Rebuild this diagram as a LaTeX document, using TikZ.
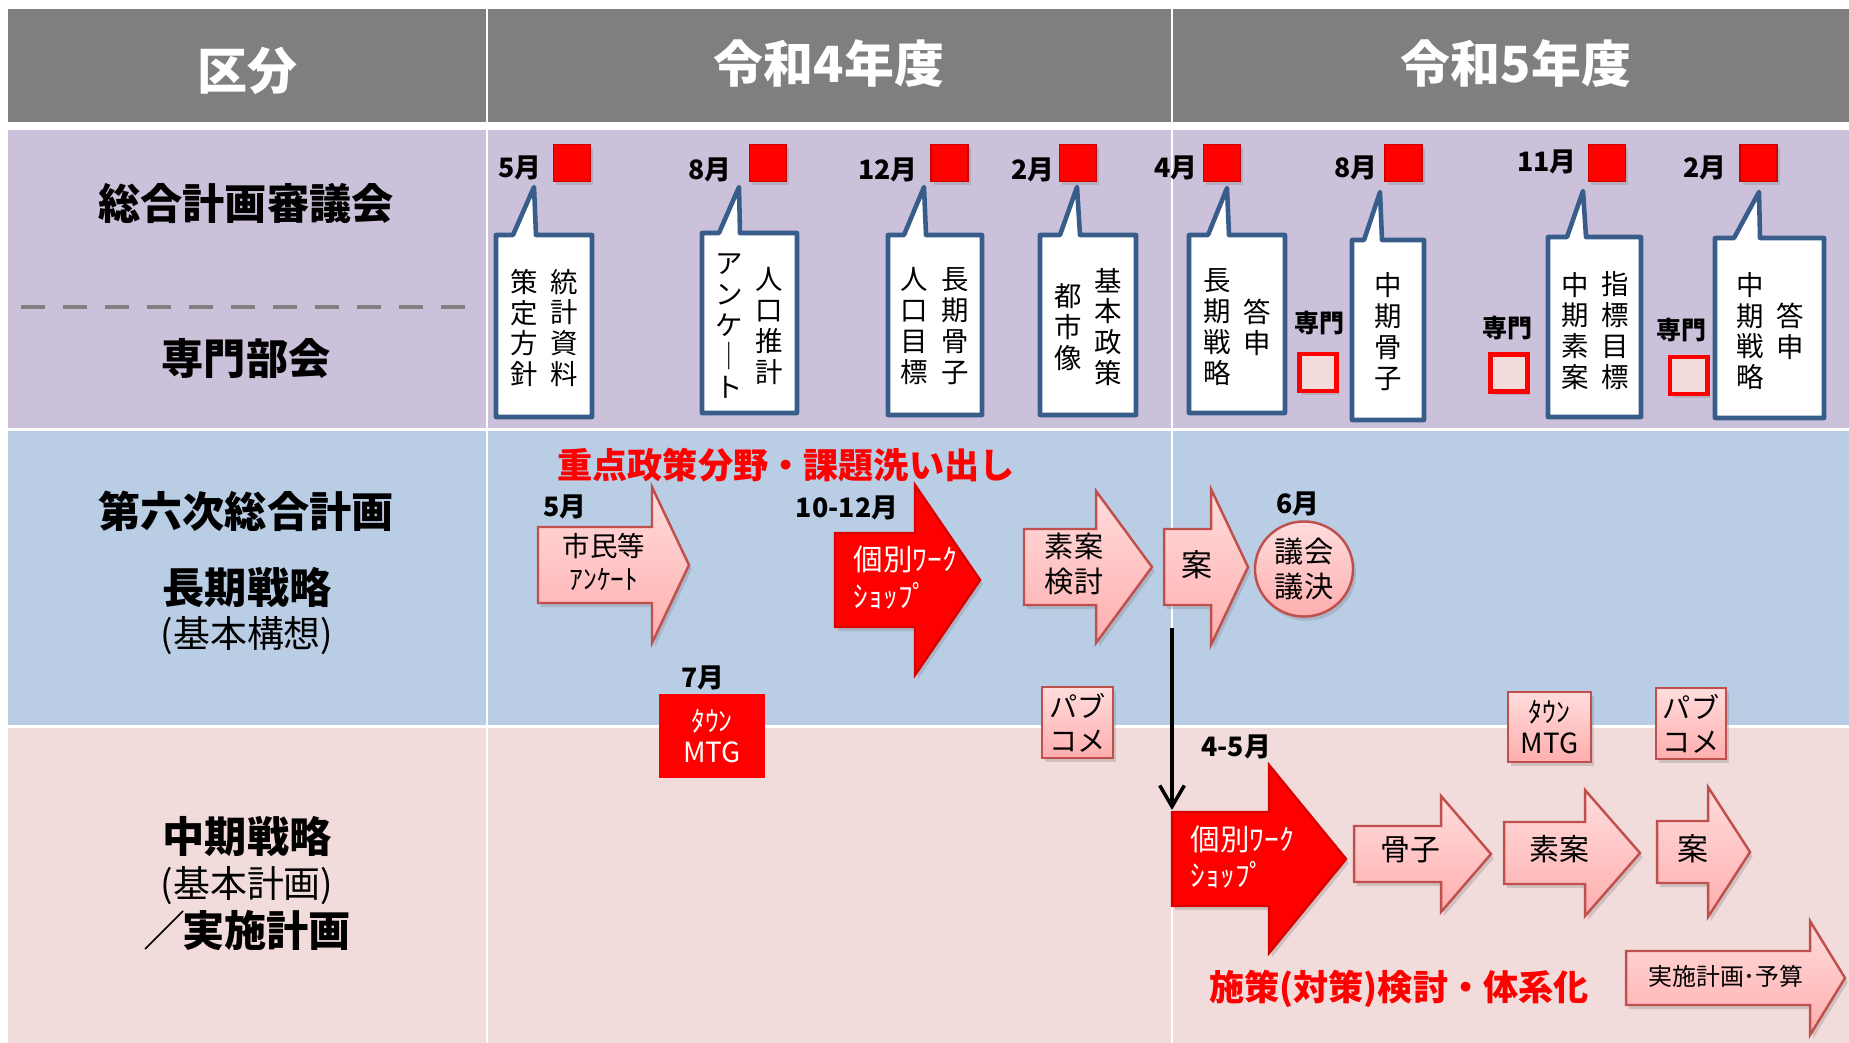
\documentclass[tikz,border=0pt]{standalone}
\usepackage{fontspec}
\setmainfont{Noto Sans CJK JP}
\usetikzlibrary{arrows.meta,shadows,shapes.geometric}

\definecolor{hdrgray}{RGB}{127,127,127}
\definecolor{rowpurple}{RGB}{204,193,218}
\definecolor{rowblue}{RGB}{185,205,229}
\definecolor{rowpink}{RGB}{242,220,219}
\definecolor{callblue}{RGB}{56,93,138}
\definecolor{pinktop}{RGB}{255,220,220}
\definecolor{pinkbot}{RGB}{255,174,174}
\definecolor{pinkedge}{RGB}{192,80,77}
\definecolor{dashgray}{RGB}{128,128,128}

% block arrow: [style] left, neck, tip, centre y, half body, half head
\newcommand{\blockarrow}[7][]{%
  \path[#1] (#2,#5-#6) -- (#3,#5-#6) -- (#3,#5-#7) -- (#4,#5) -- (#3,#5+#7) -- (#3,#5+#6) -- (#2,#5+#6) -- cycle;}

% callout: left, right, top, bottom, base left, base right, tip x, tip y
\newcommand{\callout}[8]{%
  \path[callbox] (#1,#3) -- (#5,#3) -- (#7,#8) -- (#6,#3) -- (#2,#3) -- (#2,#4) -- (#1,#4) -- cycle;}

\begin{document}
\begin{tikzpicture}[x=0.01cm,y=-0.01cm,
    hdr/.style={text=white,font=\bfseries\fontsize{14.2}{16}\selectfont},
    rowlbl/.style={font=\bfseries\fontsize{12}{14}\selectfont},
    rowsub/.style={font=\fontsize{10.5}{12}\selectfont},
    monthlbl/.style={inner sep=0pt,font=\bfseries\fontsize{7.6}{9}\selectfont},
    senmon/.style={inner sep=0pt,font=\bfseries\fontsize{7.1}{8}\selectfont},
    tate/.style={align=center,inner sep=0pt,font=\fontsize{7.8}{8.8}\selectfont},
    callbox/.style={draw=callblue,line width=1.3pt,fill=white,line join=round},
    redsq/.style={fill=red,draw=red!80!black,line width=0.4pt,minimum size=0.37cm,inner sep=0pt,
      drop shadow={shadow xshift=0.8pt,shadow yshift=-1pt,opacity=0.3}},
    senmonsq/.style={fill=rowpink,draw=red,line width=1.4pt,minimum size=0.37cm,inner sep=0pt,
      drop shadow={shadow xshift=0.8pt,shadow yshift=-1pt,opacity=0.3}},
    pinkarrow/.style={draw=pinkedge,line width=0.7pt,top color=pinktop,bottom color=pinkbot,
      drop shadow={shadow xshift=0.8pt,shadow yshift=-1.2pt,opacity=0.3}},
    redarrow/.style={draw=red!85!black,line width=0.7pt,fill=red,
      drop shadow={shadow xshift=0.8pt,shadow yshift=-1.2pt,opacity=0.3}},
    pinkbox/.style={draw=pinkedge,line width=0.7pt,top color=pinktop,bottom color=pinkbot,
      align=center,inner sep=0pt,font=\fontsize{8}{9.7}\selectfont,
      drop shadow={shadow xshift=0.8pt,shadow yshift=-1.2pt,opacity=0.3}},
    redbox/.style={fill=red,text=white,align=center,inner sep=0pt,font=\fontsize{7.9}{8.8}\selectfont},
    arrowtxt/.style={align=center,inner sep=0pt,font=\fontsize{8.3}{10.2}\selectfont},
    redtitle/.style={text=red,inner sep=0pt,font=\bfseries\fontsize{10}{12}\selectfont},
    vline/.style={line width=1pt,-{Straight Barb[length=6pt,width=7pt]}}
  ]

  \useasboundingbox (0,0) rectangle (1849,1043);
  \fill[white] (0,0) rectangle (1849,1043);

  % table cells
  \foreach \xa/\xb in {8/486,488/1171,1173/1849} {
    \fill[hdrgray] (\xa,9) rectangle (\xb,122);
    \fill[rowpurple] (\xa,130) rectangle (\xb,428);
    \fill[rowblue] (\xa,431) rectangle (\xb,725);
    \fill[rowpink] (\xa,728) rectangle (\xb,1043);
  }

  % header
  \node[hdr] (kubun) at (247,71) {区分};
  \node[hdr] (r4) at (829,64) {令和4年度};
  \node[hdr] (r5) at (1516,64) {令和5年度};

  % row labels
  \node[rowlbl] (shingikai) at (246,204) {総合計画審議会};
  \draw[dashgray,line width=1.4pt,dash pattern=on 0.24cm off 0.18cm] (21,307) -- (471,307);
  \node[rowlbl] (bukai) at (246,358) {専門部会};
  \node[rowlbl] (dai6) at (246,511) {第六次総合計画};
  \node[rowlbl] (choki) at (247,588) {長期戦略};
  \node[rowsub] (koso) at (247,636) {(基本構想)};
  \node[rowlbl] (chuki) at (247,836) {中期戦略};
  \node[rowsub] (keikaku) at (247,886) {(基本計画)};
  \node[rowlbl] (jisshi) at (247,930) {{\mdseries ／}\kern-0.08em 実施計画};

  % council meetings
  \node[monthlbl] (m1) at (520,168) {5月};
  \node[monthlbl] (m2) at (710,170) {8月};
  \node[monthlbl] (m3) at (888,170) {12月};
  \node[monthlbl] (m4) at (1033,170) {2月};
  \node[monthlbl] (m5) at (1176,168) {4月};
  \node[monthlbl] (m6) at (1356,168) {8月};
  \node[monthlbl] (m7) at (1547,162) {11月};
  \node[monthlbl] (m8) at (1705,168) {2月};
  \foreach \n/\x in {1/572,2/768,3/949.5,4/1078,5/1222,6/1403.5,7/1607,8/1758.5}
    \node[redsq] (sq\n) at (\x,163) {};

  % callouts
  \callout{496}{592}{235}{417}{513}{536}{534}{187}
  \callout{702}{797}{233}{413}{719}{740}{739}{187}
  \callout{888}{982}{235}{415}{904}{926}{924}{187}
  \callout{1040}{1136}{235}{415}{1060}{1080}{1077}{187}
  \callout{1189}{1285}{235}{413}{1208}{1229}{1227}{188}
  \callout{1352}{1424}{240}{420}{1364}{1382}{1380}{192}
  \callout{1548}{1641}{237}{417}{1567}{1586}{1583}{191}
  \callout{1715}{1824}{238}{418}{1734}{1760}{1759}{192}

  \node[tate] (c1a) at (564,328) {統\\計\\資\\料};
  \node[tate] (c1b) at (524,328) {策\\定\\方\\針};
  \node[tate] (c2a) at (769,326) {人\\口\\推\\計};
  \node[tate] (c2b) at (729,326) {ア\\ン\\ケ\\｜\\ト};
  \node[tate] (c3a) at (955,326) {長\\期\\骨\\子};
  \node[tate] (c3b) at (914,326) {人\\口\\目\\標};
  \node[tate] (c4a) at (1108,327) {基\\本\\政\\策};
  \node[tate] (c4b) at (1068,327) {都\\市\\像};
  \node[tate] (c5a) at (1257,327) {答\\申};
  \node[tate] (c5b) at (1217,327) {長\\期\\戦\\略};
  \node[tate] (c6a) at (1388,332) {中\\期\\骨\\子};
  \node[tate] (c7a) at (1615,331) {指\\標\\目\\標};
  \node[tate] (c7b) at (1575,331) {中\\期\\素\\案};
  \node[tate] (c8a) at (1790,331) {答\\申};
  \node[tate] (c8b) at (1750,331) {中\\期\\戦\\略};

  % expert committee
  \node[senmon] (sm1) at (1319,323) {専門};
  \node[senmonsq] (ss1) at (1318,372.5) {};
  \node[senmon] (sm2) at (1507,328) {専門};
  \node[senmonsq] (ss2) at (1509,373) {};
  \node[senmon] (sm3) at (1681,330) {専門};
  \node[senmonsq] (ss3) at (1688.5,375.5) {};

  % long-term strategy
  \node[redtitle] (juten) at (786,465) {重点政策分野・課題洗い出し};
  \node[monthlbl] (l1) at (565,507) {5月};
  \blockarrow[pinkarrow]{538}{652}{689}{565}{38}{78}
  \node[arrowtxt,font=\fontsize{7.8}{9.4}\selectfont] (shimin) at (604,562) {市民等\\ｱﾝｹｰﾄ};
  \node[monthlbl] (l2) at (847,508) {10-12月};
  \blockarrow[redarrow]{835}{915}{980}{580}{47}{95}
  \node[arrowtxt,align=left,anchor=west,text=white,font=\fontsize{8.4}{10.5}\selectfont] (ws1) at (853,578) {個別ﾜｰｸ\\ｼｮｯﾌﾟ};
  \blockarrow[pinkarrow]{1024}{1096}{1152}{567}{38}{76}
  \node[arrowtxt] (soan1) at (1074,564) {素案\\検討};
  \blockarrow[pinkarrow]{1164}{1211}{1248}{567}{38}{78}
  \node[arrowtxt,font=\fontsize{8.8}{10}\selectfont] (an1) at (1197,565) {案};
  \node[monthlbl] (l3) at (1298,504) {6月};
  \node[ellipse,draw=pinkedge,line width=0.7pt,top color=pinktop,bottom color=pinkbot,
    minimum width=0.98cm,minimum height=0.95cm,inner sep=0pt,align=center,
    font=\fontsize{8.3}{9.7}\selectfont,
    drop shadow={shadow xshift=0.8pt,shadow yshift=-1.2pt,opacity=0.3}] (gikai) at (1304,569) {議会\\議決};

  \node[monthlbl] (l4) at (703,678) {7月};
  \node[redbox,minimum width=1.05cm,minimum height=0.83cm] (town1) at (712,736) {ﾀｳﾝ\\MTG};
  \node[pinkbox,minimum width=0.71cm,minimum height=0.71cm] (pub1) at (1077.5,722.5) {パブ\\コメ};
  \node[pinkbox,minimum width=0.83cm,minimum height=0.70cm,font=\fontsize{7.9}{8.8}\selectfont] (town2) at (1549.5,727) {ﾀｳﾝ\\MTG};
  \node[pinkbox,minimum width=0.70cm,minimum height=0.71cm] (pub2) at (1691,723.5) {パブ\\コメ};

  % link to mid-term strategy
  \coordinate (vtop) at (1172,628);
  \coordinate (vbot) at (1172,810);
  \draw[vline] (vtop) -- (vbot);

  % mid-term strategy
  \node[monthlbl] (l5) at (1236,747) {4-5月};
  \blockarrow[redarrow]{1172}{1269}{1346}{859}{47}{94}
  \node[arrowtxt,align=left,anchor=west,text=white,font=\fontsize{8.4}{10.3}\selectfont] (ws2) at (1190,857) {個別ﾜｰｸ\\ｼｮｯﾌﾟ};
  \blockarrow[pinkarrow]{1354}{1441}{1491}{854}{28}{58}
  \node[arrowtxt,font=\fontsize{8.5}{10}\selectfont] (kossi) at (1410,850) {骨子};
  \blockarrow[pinkarrow]{1504}{1585}{1640}{853}{31}{63}
  \node[arrowtxt,font=\fontsize{8.5}{10}\selectfont] (soan2) at (1559,849) {素案};
  \blockarrow[pinkarrow]{1657}{1708}{1750}{852}{31}{65}
  \node[arrowtxt,font=\fontsize{8.8}{10}\selectfont] (an2) at (1693,849) {案};
  \blockarrow[pinkarrow]{1626}{1810}{1845}{978}{27}{57}
  \node[arrowtxt,font=\fontsize{6.8}{8}\selectfont] (yosan) at (1726,976) {実施計画･予算};
  \node[redtitle] (sesaku) at (1399,989) {施策(対策)検討・体系化};

\end{tikzpicture}
\end{document}
